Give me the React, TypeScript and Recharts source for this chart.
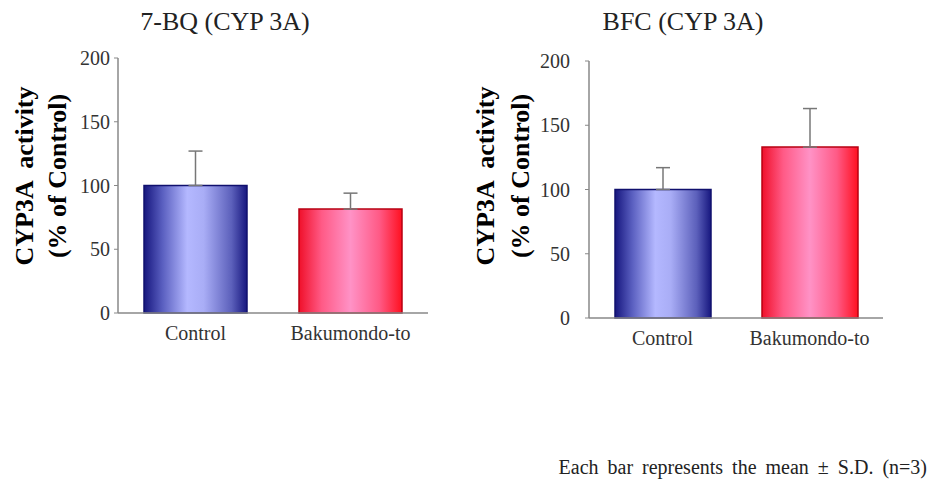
import { Bar, BarChart, Cell, ErrorBar, Label, XAxis, YAxis } from 'recharts';

const categories = ['Control', 'Bakumondo-to'];
const bqMean = [100, 81.5];
const bqSd = [27, 12.5];
const bfcMean = [100, 133];
const bfcSd = [17, 30];
const yTicks = [0, 50, 100, 150, 200];

const serif = '"Liberation Serif", "Times New Roman", serif';

const build = (mean: number[], sd: number[]) =>
  categories.map((name, i) => ({ name, value: mean[i], err: [0, sd[i]] }));

const labelStyle = {
  fontFamily: serif,
  fontWeight: 'bold' as const,
  fontSize: 26,
  fill: '#000',
  whiteSpace: 'pre' as const,
};

const YLabel = ({ x1, x2, cy }: { x1: number; x2: number; cy: number }) => (
  <g>
    <text x={x1} y={cy} style={labelStyle} textAnchor="middle" dominantBaseline="central" transform={`rotate(-90, ${x1}, ${cy})`}>
      {'CYP3A  activity'}
    </text>
    <text x={x2} y={cy} style={labelStyle} textAnchor="middle" dominantBaseline="central" transform={`rotate(-90, ${x2}, ${cy})`}>
      (% of Control)
    </text>
  </g>
);

const Panel = ({
  id,
  mean,
  sd,
  width,
  margin,
  yWidth,
  tickMargin,
  barSize,
  labelX,
}: {
  id: string;
  mean: number[];
  sd: number[];
  width: number;
  margin: { top: number; right: number; bottom: number; left: number };
  yWidth: number;
  tickMargin: number;
  barSize: number;
  labelX: [number, number];
}) => (
  <BarChart width={width} height={360} data={build(mean, sd)} margin={margin}>
    <defs>
      <linearGradient id={`${id}-blue`} x1="0" y1="0" x2="1" y2="0">
        <stop offset="0%" stopColor="#16167e" />
        <stop offset="18%" stopColor="#5a5fc0" />
        <stop offset="42%" stopColor="#b4b8ff" />
        <stop offset="58%" stopColor="#a9adf6" />
        <stop offset="85%" stopColor="#5c60bb" />
        <stop offset="100%" stopColor="#17177f" />
      </linearGradient>
      <linearGradient id={`${id}-red`} x1="0" y1="0" x2="1" y2="0">
        <stop offset="0%" stopColor="#f0102a" />
        <stop offset="22%" stopColor="#ff5a86" />
        <stop offset="50%" stopColor="#ff92c6" />
        <stop offset="78%" stopColor="#ff5a86" />
        <stop offset="100%" stopColor="#ff1020" />
      </linearGradient>
    </defs>
    <XAxis
      xAxisId="sep"
      type="number"
      domain={[0, 2]}
      ticks={[0, 1, 2]}
      allowDataOverflow
      height={0}
      axisLine={false}
      tickSize={5}
      tickLine={{ stroke: '#888' }}
      tickFormatter={() => ''}
    />
    <XAxis
      dataKey="name"
      height={40}
      axisLine={{ stroke: '#888', strokeWidth: 1.5 }}
      tickLine={false}
      tickSize={5}
      tickMargin={8}
      tick={{ fontSize: 20, fill: '#333', fontFamily: serif }}
    />
    <YAxis
      domain={[0, 200]}
      ticks={yTicks}
      width={yWidth}
      axisLine={{ stroke: '#888', strokeWidth: 1.5 }}
      tickLine={{ stroke: '#888' }}
      tickSize={4}
      tickMargin={tickMargin}
      tick={{ fontSize: 20, fill: '#333', fontFamily: serif }}
    >
      <Label content={() => <YLabel x1={labelX[0]} x2={labelX[1]} cy={176} />} />
    </YAxis>
    <Bar dataKey="value" barSize={barSize} strokeWidth={1.5} isAnimationActive={false}>
      <Cell fill={`url(#${id}-blue)`} stroke="#10106e" />
      <Cell fill={`url(#${id}-red)`} stroke="#b80012" />
      <ErrorBar dataKey="err" width={7} stroke="#777" strokeWidth={1.5} direction="y" />
    </Bar>
  </BarChart>
);

export default function App() {
  return (
    <div
      style={{
        position: 'absolute',
        left: 0,
        top: 0,
        width: 930,
        height: 493,
        background: '#fff',
        fontFamily: serif,
        overflow: 'hidden',
      }}
    >
      <div style={{ position: 'absolute', left: 75, top: 9, width: 300, textAlign: 'center', fontSize: 26, lineHeight: 1, color: '#222' }}>
        7-BQ (CYP 3A)
      </div>
      <div style={{ position: 'absolute', left: 533, top: 9, width: 300, textAlign: 'center', fontSize: 26, lineHeight: 1, color: '#222' }}>
        BFC (CYP 3A)
      </div>
      <div style={{ position: 'absolute', left: 0, top: 0 }}>
        <Panel
          id="bq"
          mean={bqMean}
          sd={bqSd}
          width={440}
          margin={{ top: 58, right: 12, bottom: 7, left: 0 }}
          yWidth={118}
          tickMargin={4}
          barSize={103}
          labelX={[24, 57]}
        />
      </div>
      <div style={{ position: 'absolute', left: 460, top: 0 }}>
        <Panel
          id="bfc"
          mean={bfcMean}
          sd={bfcSd}
          width={440}
          margin={{ top: 61, right: 17, bottom: 2, left: 0 }}
          yWidth={129}
          tickMargin={15}
          barSize={96}
          labelX={[25, 60]}
        />
      </div>
      <div
        style={{
          position: 'absolute',
          right: 3,
          top: 457,
          fontSize: 20,
          lineHeight: 1,
          wordSpacing: 4,
          color: '#222',
          whiteSpace: 'pre',
        }}
      >
        Each bar represents the mean ± S.D. (n=3)
      </div>
    </div>
  );
}
